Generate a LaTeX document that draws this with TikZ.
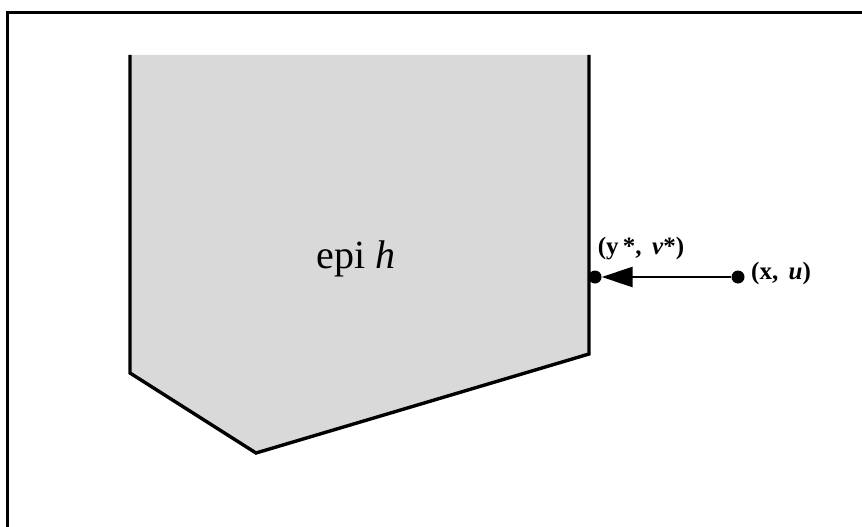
\documentclass[tikz,border=0pt]{standalone}
\usepackage{fontspec}
\setmainfont{Liberation Serif}
\usetikzlibrary{arrows.meta}
\begin{document}
\begin{tikzpicture}[x=1pt,y=-1pt,
  edge/.style={line width=3.4pt,line join=miter},
  dotmark/.style={circle,fill=black,inner sep=0pt,minimum size=13pt},
  lbl/.style={font=\fontsize{25}{29}\selectfont\bfseries,inner sep=0pt}]
\useasboundingbox (0,0) rectangle (862,527);
% frame
\draw[line width=3pt] (7,527) -- (7,13) -- (862,13);
% epigraph
\coordinate (tl) at (130,55);
\coordinate (bl) at (130,373);
\coordinate (bm) at (256,453);
\coordinate (br) at (589,354);
\coordinate (tr) at (589,55);
\fill[gray!30] (tl) -- (bl) -- (bm) -- (br) -- (tr) -- cycle;
\draw[edge] (tl) -- (bl) -- (bm) -- (br) -- (tr);
\node[font=\fontsize{40}{44}\selectfont,anchor=base,inner sep=0pt] (epi) at (356,268) {epi \textit{h}};
% points
\node[dotmark] (y) at (595,277) {};
\node[dotmark] (x) at (738,277) {};
\draw[line width=2.6pt,-{Triangle[length=31pt,width=20pt]}] (x) -- (y);
\node[lbl,anchor=base] (ylbl) at (641,254) {(y\,*, \,\textit{ν}*)};
\node[lbl,anchor=base west] (xlbl) at (751,279) {(x, \,\textit{u})};
\end{tikzpicture}
\end{document}
